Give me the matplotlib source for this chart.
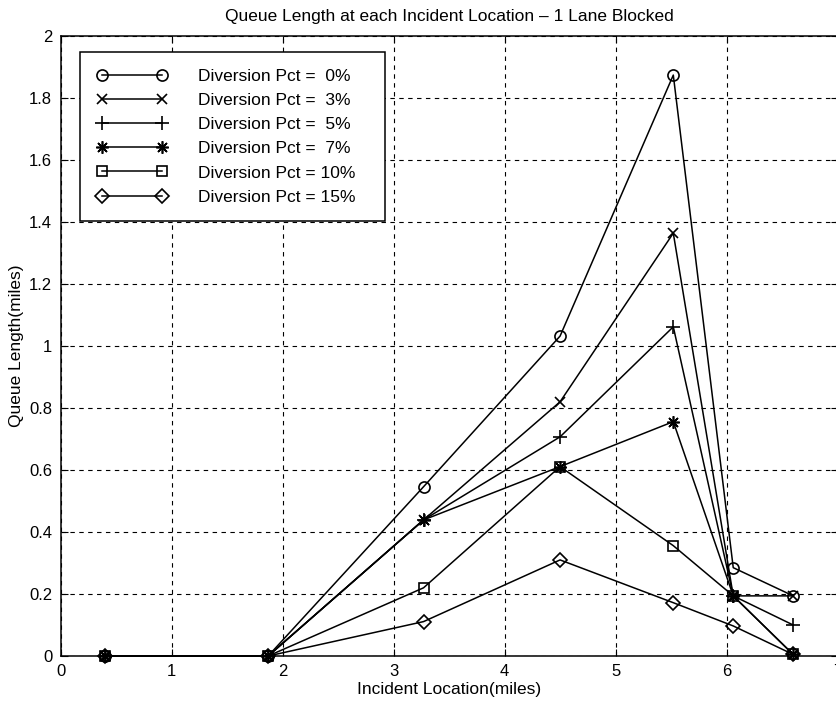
import matplotlib
matplotlib.use('Agg')
import matplotlib.pyplot as plt
from matplotlib.ticker import FormatStrFormatter
import numpy as np

plt.rc('font', family='Liberation Sans')
plt.rcParams['xtick.direction'] = 'in'
plt.rcParams['ytick.direction'] = 'in'

############################################
# Data
location = [0.4, 1.87, 3.27, 4.5, 5.52, 6.06, 6.6]  # incident location (miles)

pct_labels = ['Diversion Pct =  0%',
              'Diversion Pct =  3%',
              'Diversion Pct =  5%',
              'Diversion Pct =  7%',
              'Diversion Pct = 10%',
              'Diversion Pct = 15%']

queue_0 = [0.0, 0.0, 0.546, 1.032, 1.874, 0.285, 0.194]
queue_3 = [0.0, 0.0, 0.439, 0.820, 1.364, 0.194, 0.194]
queue_5 = [0.0, 0.0, 0.439, 0.707, 1.062, 0.194, 0.100]
queue_7 = [0.0, 0.0, 0.439, 0.611, 0.756, 0.194, 0.005]
queue_10 = [0.0, 0.0, 0.220, 0.611, 0.356, 0.194, 0.005]
queue_15 = [0.0, 0.0, 0.111, 0.310, 0.172, 0.097, 0.005]

############################################
# Markers
markers = ['o', 'x', '+', (8, 2, 0), 's', 'D']
msizes = [8, 7, 10, 9, 7, 7]

############################################
def QueuePlot(plot_name):
  fig = plt.figure(figsize=(8.36, 7.02), dpi=100)
  ax = fig.add_axes([0.0724, 0.0655, 0.9295, 0.8832])

  series = [queue_0, queue_3, queue_5, queue_7, queue_10, queue_15]
  for i in range(len(series)):
    ax.plot(location, series[i], color='black', linewidth=1.1,
            marker=markers[i], markersize=msizes[i], markerfacecolor='none',
            markeredgecolor='black', markeredgewidth=1.2, label=pct_labels[i],
            clip_on=False, zorder=3)

  ax.set_xlim(0, 7)
  ax.set_ylim(0, 2)
  ax.set_xticks(np.arange(0, 8, 1))
  ax.set_yticks(np.arange(0, 2.01, 0.2))
  ax.yaxis.set_major_formatter(FormatStrFormatter('%g'))
  ax.tick_params(top=True, right=True, labelsize=12, length=5, width=0.8, pad=6)

  ax.grid(True, color='black', linestyle=(0, (4, 4)), linewidth=0.8)
  for s in ax.spines.values():
    s.set_linewidth(1.1)

  ax.set_title('Queue Length at each Incident Location \u2013 1 Lane Blocked',
               fontsize=12.5, pad=11)
  ax.set_xlabel('Incident Location(miles)', fontsize=12.5, labelpad=2)
  ax.set_ylabel('Queue Length(miles)', fontsize=12.5, labelpad=4)

  leg = ax.legend(loc='upper left', bbox_to_anchor=(0.0251, 0.5, 0.393, 0.474),
                  mode='expand', numpoints=2, fontsize=12.5,
                  handlelength=4.1, handletextpad=1.75,
                  borderpad=0.95, labelspacing=0.52, borderaxespad=0,
                  fancybox=False, framealpha=1, edgecolor='black')
  leg.get_frame().set_linewidth(1.1)

  plt.savefig(plot_name, dpi=100)


if __name__ == '__main__':
  QueuePlot('out.png')
